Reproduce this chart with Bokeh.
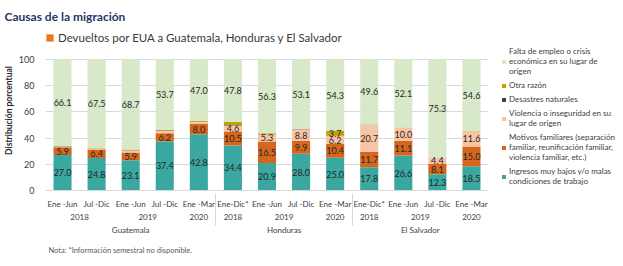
from bokeh.plotting import figure
from bokeh.layouts import row
from bokeh.models import (ColumnDataSource, FactorRange, Range1d, Legend, LegendItem,
                          Title, FixedTicker)
from bokeh.core.properties import value
from bokeh.embed import file_html
from bokeh.resources import INLINE

countries = ["Guatemala"] * 5 + ["Honduras"] * 4 + ["El Salvador"] * 4
years = ["2018", "2018", "2019", "2019", "2020",
         "2018", "2019", "2019", "2020",
         "2018", "2019", "2019", "2020"]
periods = ["Ene -Jun", "Jul -Dic", "Ene -Jun", "Jul -Dic", "Ene -Mar",
           "Ene-Dic*", "Ene -Jun", "Jul -Dic", "Ene -Mar",
           "Ene-Dic*", "Ene -Jun", "Jul -Dic", "Ene -Mar"]

ingresos = [27.0, 24.8, 23.1, 37.4, 42.8, 34.4, 20.9, 28.0, 25.0, 17.8, 26.6, 12.3, 18.5]
familiares = [5.9, 6.4, 5.9, 6.2, 8.0, 10.5, 16.5, 9.9, 10.4, 11.7, 11.1, 8.1, 15.0]
violencia = [0.7, 1.0, 1.6, 1.8, 1.4, 4.6, 5.3, 8.8, 6.2, 20.7, 10.0, 4.4, 11.6]
desastres = [0.1, 0.0, 0.2, 0.3, 0.2, 0.5, 0.2, 0.1, 0.2, 0.1, 0.1, 0.0, 0.1]
otra = [0.2, 0.3, 0.5, 0.6, 0.6, 2.2, 0.8, 0.1, 3.7, 0.1, 0.1, 0.0, 0.2]
falta = [66.1, 67.5, 68.7, 53.7, 47.0, 47.8, 56.3, 53.1, 54.3, 49.6, 52.1, 75.3, 54.6]

series_keys = ["ingresos", "familiares", "violencia", "desastres", "otra", "falta"]
series_vals = [ingresos, familiares, violencia, desastres, otra, falta]
series_names = [
    "Ingresos muy bajos y/o malas\ncondiciones de trabajo",
    "Motivos familiares (separación\nfamiliar, reunificación familiar,\nviolencia familiar, etc.)",
    "Violencia o inseguridad en su\nlugar de origen",
    "Desastres naturales",
    "Otra razón",
    "Falta de empleo o crisis\neconómica en su lugar de\norigen",
]
colors = ["#3AA7A0", "#D4661E", "#F8C4A4", "#404040", "#C4A100", "#D7E9C8"]
show_label = {
    "ingresos": [True] * 13,
    "familiares": [True] * 13,
    "violencia": [False] * 5 + [True] * 8,
    "desastres": [False] * 13,
    "otra": [False] * 8 + [True] + [False] * 4,
    "falta": [True] * 13,
}
title_text = "Causas de la migración"
subtitle_text = "Devueltos por EUA a Guatemala, Honduras y El Salvador"
note_text = "Nota: *Información semestral no disponible."

FONT = "Lato"
factors = list(zip(countries, years, periods))

data = {"x": factors}
for k, v in zip(series_keys, series_vals):
    data[k] = v
src = ColumnDataSource(data)

# frame extends above 100 to leave room for the subtitle legend inside it
p = figure(frame_width=443, frame_height=160,
           x_range=FactorRange(*factors, factor_padding=0, subgroup_padding=0,
                               group_padding=0, range_padding=0),
           y_range=Range1d(0, 122), output_backend="svg", toolbar_location=None,
           min_border_left=40, min_border_right=0, min_border_top=0,
           min_border_bottom=0)
p.outline_line_color = None
p.background_fill_color = "white"
p.border_fill_color = "white"

rs = p.vbar_stack(series_keys, x="x", width=0.53, source=src, color=colors,
                  line_color=None)

lx, ly, lt = [], [], []
for i in range(13):
    base = 0.0
    for k, v in zip(series_keys, series_vals):
        if show_label[k][i]:
            lx.append(factors[i])
            ly.append(base + v[i] / 2)
            lt.append("%.1f" % v[i])
        base += v[i]
lsrc = ColumnDataSource(dict(x=lx, y=ly, t=lt))
p.text(x="x", y="y", text="t", source=lsrc, text_align="center",
       text_baseline="middle", text_font=value(FONT), text_font_size="9px",
       text_color="#262626")

p.xgrid.grid_line_color = None
p.ygrid.grid_line_color = "#D9D9D9"
p.ygrid.ticker = FixedTicker(ticks=[0, 20, 40, 60, 80, 100])
p.yaxis.ticker = FixedTicker(ticks=[0, 20, 40, 60, 80, 100])
p.yaxis.axis_line_color = None
p.yaxis.major_tick_line_color = None
p.yaxis.minor_tick_line_color = None
p.yaxis.major_label_text_font = FONT
p.yaxis.major_label_text_font_size = "9px"
p.yaxis.major_label_text_color = "#404040"
p.yaxis.axis_label = "Distribución porcentual"
p.yaxis.axis_label_text_font = FONT
p.yaxis.axis_label_text_font_size = "8.5px"
p.yaxis.axis_label_text_font_style = "bold"
p.yaxis.axis_label_text_color = "#262626"
p.yaxis.axis_label_standoff = 2

xa = p.xaxis[0]
xa.axis_line_color = "#D9D9D9"
xa.major_tick_line_color = None
xa.minor_tick_line_color = None
xa.major_label_standoff = 2
xa.major_label_text_font = FONT
xa.major_label_text_font_size = "8px"
xa.major_label_text_color = "#404040"
xa.subgroup_text_font = FONT
xa.subgroup_text_font_size = "8px"
xa.subgroup_text_font_style = "normal"
xa.subgroup_text_color = "#404040"
xa.group_text_font = FONT
xa.group_text_font_size = "8px"
xa.group_text_font_style = "normal"
xa.group_text_color = "#404040"
try:
    xa.separator_line_color = "#D9D9D9"
    xa.separator_line_width = 1
except Exception:
    pass

# subtitle: a one-item legend with the orange square (placeholder glyph of zero height)
dsrc = ColumnDataSource(dict(x=[factors[0]], top=[0]))
dummy = p.vbar(x="x", top="top", width=0.5, color="#E87722", line_color=None,
               source=dsrc)
sub = Legend(items=[LegendItem(label=subtitle_text, renderers=[dummy])],
             location=(0, 146.5), orientation="horizontal", glyph_width=9,
             glyph_height=9, label_text_font=FONT, label_text_font_size="11.5px",
             label_text_color="#3A3A3A", border_line_color=None,
             background_fill_alpha=0, padding=2, margin=0, label_standoff=4,
             label_height=12)
p.add_layout(sub, "center")

p.title.text = title_text
p.title.align = "left"
p.title.offset = -41
p.title.text_font = FONT
p.title.text_font_size = "12px"
p.title.text_font_style = "bold"
p.title.text_color = "#1F3864"
p.title.standoff = 13

p.add_layout(Title(text=note_text, align="left", offset=3, text_font=FONT,
                   text_font_size="7.5px", text_font_style="normal",
                   text_color="#595959", standoff=13), "below")

# legend panel as its own figure to the right (its frame aligns with the main frame)
lf = figure(width=132, height=258, output_backend="svg", toolbar_location=None,
            x_axis_type=None, y_axis_type=None, min_border=0)
lf.outline_line_color = None
lf.grid.grid_line_color = None
lf.background_fill_color = "white"
lf.border_fill_color = "white"
lsrc2 = ColumnDataSource(dict(x=[0], top=[0]))
lrs = [lf.vbar(x="x", top="top", width=0.5, color=c, line_color=None, source=lsrc2)
       for c in colors]
items = [LegendItem(label=series_names[j], renderers=[lrs[j]]) for j in range(5, -1, -1)]
leg = Legend(items=items, location=(13, 1), glyph_width=5, glyph_height=5,
             label_text_font=FONT, label_text_font_size="8px",
             label_text_color="#404040", border_line_color=None,
             background_fill_alpha=0, spacing=4, padding=0, margin=0,
             label_standoff=3, label_height=10)
lf.add_layout(leg, "center")

layout = row(p, lf, spacing=0)
open("out.html", "w").write(file_html(layout, INLINE))
